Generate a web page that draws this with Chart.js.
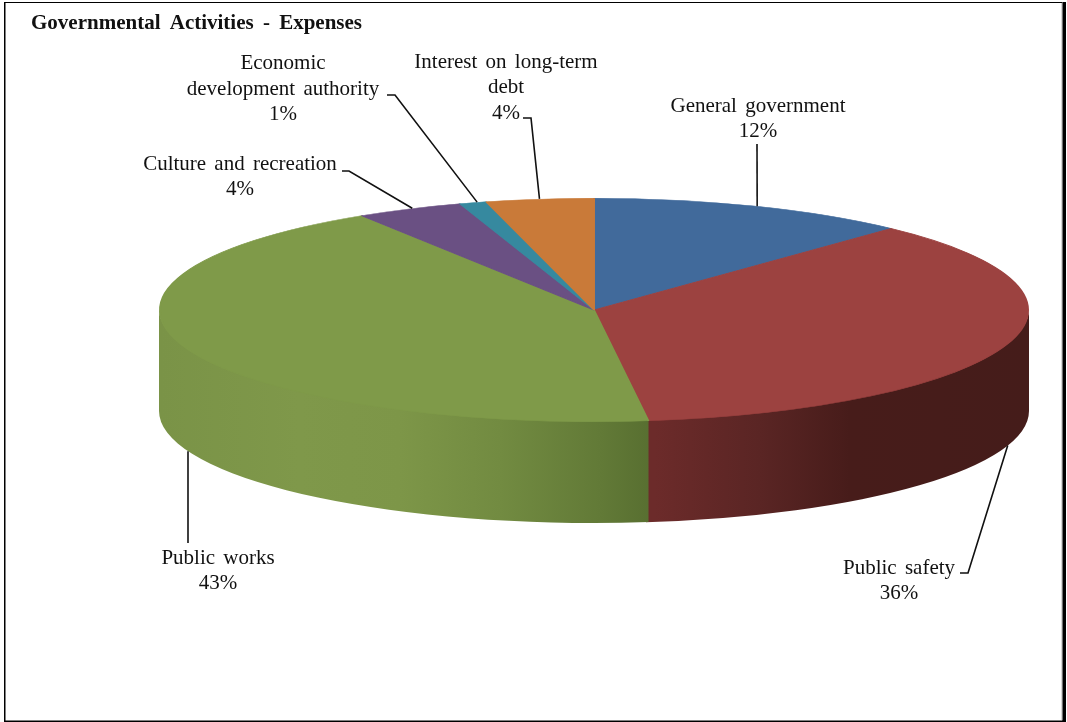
<!DOCTYPE html>
<html>
<head>
<meta charset="utf-8">
<style>
  html, body { margin: 0; padding: 0; background: #fff; }
  canvas { display: block; }
</style>
<script src="https://cdn.jsdelivr.net/npm/chart.js@4"></script>
</head>
<body>
<canvas id="pie" width="1067" height="722"></canvas>
<script>
// Expense shares, clockwise from twelve o'clock
const categories = ['General government', 'Public safety', 'Public works',
  'Culture and recreation', 'Economic development authority', 'Interest on long-term debt'];
const shares = [12, 36, 43, 4, 1, 4];
const topColors = ['#416a9b', '#9c4240', '#7f9a49', '#6a5083', '#36899f', '#c97a39'];

// Label lines for each slice, the share line is appended when drawn
const labelLines = [
  ['General government'],
  ['Public safety'],
  ['Public works'],
  ['Culture and recreation'],
  ['Economic', 'development authority'],
  ['Interest on long-term', 'debt']
];
const labelCenters = [[758, 119], [899, 581], [218, 571], [240, 177], [283, 89], [506, 87.5]];
// Leader routes run from the label towards the slice; the slice end is computed
const leaderRoutes = [
  [[757, 144]],
  [[960, 573], [968, 573]],
  [[188, 543]],
  [[342, 171], [349, 171]],
  [[387, 95], [395, 95]],
  [[523, 118], [531, 118]]
];
const leaderOnWall = [false, true, true, false, false, false];
// Where along its slice each leader lands, as a fraction of the slice's sweep
const leaderAlong = [0.51, 0.5, 0.492, 0.535, 0.67, 0.5];

const ELLIPSE_RY = 112;
const ELLIPSE_RX = 435;
const X_STRETCH = ELLIPSE_RX / ELLIPSE_RY;
const WALL_DEPTH = 101;

function wallGradient(ctx, stops) {
  const g = ctx.createLinearGradient(160, 0, 1029, 0);
  stops.forEach(([x, c]) => g.addColorStop((x - 160) / 869, c));
  return g;
}

const frame = {
  id: 'frame',
  beforeDraw(chart) {
    const c = chart.ctx;
    c.save();
    c.fillStyle = '#fff';
    c.fillRect(0, 0, 1067, 722);
    c.fillStyle = '#000';
    c.fillRect(4, 2, 1058, 1);
    c.fillRect(4, 2, 1.5, 719);
    c.fillRect(4, 720.5, 1062, 1.5);
    c.fillRect(1062.3, 2, 3.7, 720);
    c.fillStyle = '#c8c8c8';
    c.fillRect(1061.3, 3, 1, 717);
    c.restore();
  }
};

// Squashes the round pie into a tilted disc and adds the side wall beneath it
const tiltedDisc = {
  id: 'tiltedDisc',
  beforeDatasetsDraw(chart) {
    const c = chart.ctx;
    const arcs = chart.getDatasetMeta(0).data;
    const wallFills = {
      1: wallGradient(c, [[655, '#6c2b2a'], [760, '#5a2524'], [850, '#471c1a'], [1029, '#451c1a']]),
      2: wallGradient(c, [[160, '#7a9347'], [300, '#7f984a'], [400, '#7d9648'], [500, '#728b41'], [600, '#627a37'], [655, '#576e30']])
    };
    arcs.forEach((arc, i) => {
      const { x, y, startAngle, endAngle } = arc.getProps(['x', 'y', 'startAngle', 'endAngle'], true);
      const a0 = Math.max(startAngle, 0);
      // A slight overrun slides under the next wall and closes the joint between them
      const a1 = Math.min(endAngle + 0.006, Math.PI);
      if (a1 <= a0) return;
      c.save();
      c.beginPath();
      // The upper rim tucks under the top face so no seam shows along the edge
      c.ellipse(x, y - 1.5, ELLIPSE_RX, ELLIPSE_RY, 0, a0, a1);
      c.ellipse(x, y + WALL_DEPTH, ELLIPSE_RX, ELLIPSE_RY, 0, a1, a0, true);
      c.closePath();
      c.fillStyle = wallFills[i] || topColors[i];
      c.fill();
      c.restore();
    });
    const { x, y } = arcs[0].getProps(['x', 'y'], true);
    c.save();
    c.translate(x, y);
    c.scale(X_STRETCH, 1);
    c.translate(-x, -y);
  },
  afterDatasetsDraw(chart) {
    chart.ctx.restore();
  }
};

const sliceLabels = {
  id: 'sliceLabels',
  afterDraw(chart) {
    const c = chart.ctx;
    const arcs = chart.getDatasetMeta(0).data;
    c.save();
    c.fillStyle = '#111';
    c.strokeStyle = '#111';
    c.textBaseline = 'middle';

    c.font = 'bold 21px "Liberation Serif"';
    c.wordSpacing = '4px';
    c.textAlign = 'left';
    c.fillText('Governmental Activities - Expenses', 31, 23.5);

    c.font = '21px "Liberation Serif"';
    c.wordSpacing = '3px';
    c.textAlign = 'center';
    c.lineWidth = 1.6;
    arcs.forEach((arc, i) => {
      const { x, y, startAngle, endAngle } = arc.getProps(['x', 'y', 'startAngle', 'endAngle'], true);
      const at = startAngle + (endAngle - startAngle) * leaderAlong[i];
      const ax = x + ELLIPSE_RX * Math.cos(at);
      const ay = y + ELLIPSE_RY * Math.sin(at) + (leaderOnWall[i] ? WALL_DEPTH : 0);
      c.beginPath();
      leaderRoutes[i].forEach(([px, py], k) => k ? c.lineTo(px, py) : c.moveTo(px, py));
      c.lineTo(ax, ay);
      c.stroke();

      const lines = [...labelLines[i], shares[i] + '%'];
      const [lx, ly] = labelCenters[i];
      lines.forEach((t, k) => c.fillText(t, lx, ly + (k - (lines.length - 1) / 2) * 25.5));
    });
    c.restore();
  }
};

new Chart(document.getElementById('pie'), {
  type: 'pie',
  data: {
    labels: categories,
    datasets: [{ data: shares, backgroundColor: topColors, borderColor: topColors, borderWidth: 0.5 }]
  },
  options: {
    responsive: false,
    animation: false,
    layout: { padding: { left: 482, right: 361, top: 198, bottom: 300 } },
    plugins: { legend: { display: false }, tooltip: { enabled: false }, title: { display: false } }
  },
  plugins: [frame, tiltedDisc, sliceLabels]
});
</script>
</body>
</html>
